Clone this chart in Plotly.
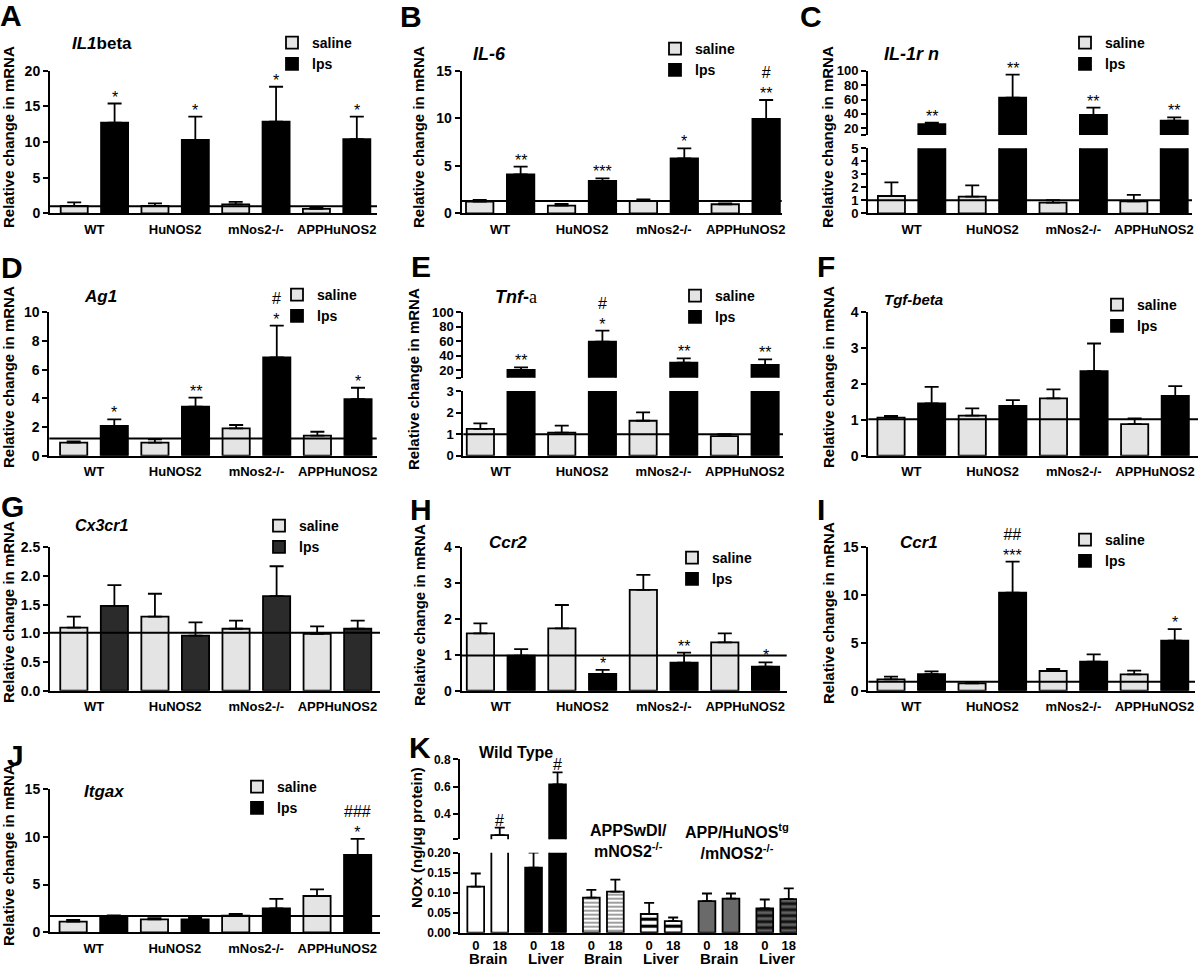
import plotly.graph_objects as go

W, H = 1200, 967
FONT = "Arial, Liberation Sans, Helvetica, sans-serif"

# ---------------- data ----------------
genotypes = ["WT", "HuNOS2", "mNos2-/-", "APPHuNOS2"]

# A  IL1beta
il1b_saline = [1.03, 1.03, 1.26, 0.61]
il1b_saline_err = [0.51, 0.37, 0.33, 0.18]
il1b_lps = [12.7, 10.3, 12.85, 10.4]
il1b_lps_err = [2.7, 3.25, 4.9, 3.15]
il1b_marks = ["*", "*", "*", "*"]
il1b_baseline = 1.0

# B  IL-6
il6_saline = [1.23, 0.81, 1.30, 0.95]
il6_saline_err = [0.17, 0.17, 0.17, 0.10]
il6_lps = [4.1, 3.4, 5.78, 9.92]
il6_lps_err = [0.81, 0.28, 1.05, 2.0]
il6_marks = ["**", "***", "*", "#<br>**"]
il6_baseline = 1.3

# C  IL-1rn (broken axis)
il1rn_saline = [1.33, 1.28, 0.82, 0.92]
il1rn_saline_err = [1.05, 0.87, 0.2, 0.49]
il1rn_lps = [25.6, 62.5, 38.5, 30.6]
il1rn_lps_err = [2.2, 32.0, 10.1, 4.7]
il1rn_marks = ["**", "**", "**", "**"]
il1rn_baseline = 1.0

# D  Ag1
ag1_saline = [0.91, 0.91, 1.91, 1.40]
ag1_saline_err = [0.09, 0.23, 0.23, 0.27]
ag1_lps = [2.07, 3.42, 6.86, 3.95]
ag1_lps_err = [0.46, 0.63, 2.21, 0.79]
ag1_marks = ["*", "**", "#<br>*", "*"]
ag1_baseline = 1.2

# E  Tnf-a (broken axis)
tnf_saline = [1.24, 1.07, 1.62, 0.91]
tnf_saline_err = [0.26, 0.32, 0.39, 0.09]
tnf_lps = [20.0, 59.2, 30.1, 26.9]
tnf_lps_err = [3.7, 15.3, 6.1, 7.9]
tnf_marks = ["**", "#<br>*", "**", "**"]
tnf_baseline = 1.0

# F  Tgf-beta
tgf_saline = [1.06, 1.12, 1.60, 0.88]
tgf_saline_err = [0.05, 0.20, 0.25, 0.16]
tgf_lps = [1.46, 1.39, 2.36, 1.67]
tgf_lps_err = [0.46, 0.16, 0.77, 0.27]
tgf_marks = ["", "", "", ""]
tgf_baseline = 1.02

# G  Cx3cr1
cx3_saline = [1.10, 1.29, 1.08, 0.99]
cx3_saline_err = [0.19, 0.40, 0.14, 0.13]
cx3_lps = [1.48, 0.96, 1.65, 1.08]
cx3_lps_err = [0.36, 0.23, 0.52, 0.14]
cx3_marks = ["", "", "", ""]
cx3_baseline = 1.01

# H  Ccr2
ccr2_saline = [1.60, 1.74, 2.81, 1.35]
ccr2_saline_err = [0.28, 0.65, 0.42, 0.25]
ccr2_lps = [0.98, 0.47, 0.78, 0.67]
ccr2_lps_err = [0.18, 0.11, 0.28, 0.12]
ccr2_marks = ["", "*", "**", "*"]
ccr2_baseline = 0.98

# I  Ccr1
ccr1_saline = [1.19, 0.77, 2.06, 1.71]
ccr1_saline_err = [0.28, 0.07, 0.21, 0.38]
ccr1_lps = [1.74, 10.25, 3.03, 5.23]
ccr1_lps_err = [0.28, 3.25, 0.77, 1.22]
ccr1_marks = ["", "##<br>***", "", "*"]
ccr1_baseline = 0.94

# J  Itgax
itgax_saline = [1.12, 1.36, 1.74, 3.80]
itgax_saline_err = [0.17, 0.11, 0.18, 0.70]
itgax_lps = [1.71, 1.36, 2.51, 8.09]
itgax_lps_err = [0.07, 0.17, 0.98, 1.68]
itgax_marks = ["", "", "", "###<br>*"]
itgax_baseline = 1.71

# K  NOx
nox_tissues = ["Brain", "Liver", "Brain", "Liver", "Brain", "Liver"]
nox_timepoints = ["0", "18"]
nox_t0 = [0.115, 0.1625, 0.0875, 0.0467, 0.079, 0.061]
nox_t0_err = [0.033, 0.0375, 0.0195, 0.028, 0.019, 0.022]
nox_t18 = [0.245, 0.617, 0.1025, 0.029, 0.085, 0.084]
nox_t18_err = [0.055, 0.088, 0.030, 0.009, 0.013, 0.027]
nox_t18_marks = ["#", "#", "", "", "", ""]
nox_groups = ["Wild Type", "APPSwDI/<br>mNOS2<sup>-/-</sup>",
              "APP/HuNOS<sup>tg</sup><br>/mNOS2<sup>-/-</sup>"]

# ---------------- helpers ----------------
fig = go.Figure()
layout = {}
annotations = []
shapes = []
counter = {"x": 0, "y": 0, "legend": 0}


def new_id(kind):
    counter[kind] += 1
    n = counter[kind]
    return "" if n == 1 else str(n)


def px(x):
    return x / W


def py(y):
    return 1 - y / H


def xd(a, b):
    return [px(a), px(b)]


def yd(top, bottom):
    return [py(bottom), py(top)]


def bfont(size):
    return dict(family=FONT, size=size, color="black", weight="bold")


YAX = dict(ticks="outside", ticklen=5, tickwidth=2, tickcolor="black", showline=True,
           linewidth=2, linecolor="black", showgrid=False, zeroline=False,
           tickfont=bfont(14), fixedrange=True, automargin=False)

BAR_W = 0.335
SAL = "#e4e4e4"
MARK_FONT = dict(family=FONT, size=16, color="black")


def text(x, y, s, size, xanchor="left", yanchor="middle", angle=0):
    annotations.append(dict(x=px(x), y=py(y), xref="paper", yref="paper", text=s,
                            showarrow=False, xanchor=xanchor, yanchor=yanchor,
                            textangle=angle, font=bfont(size)))


def bar_panel(p):
    xs = new_id("x")
    xname = "x" + xs
    yids = []
    tick_size = 13 if len(p["segments"]) > 1 else 14
    for seg in p["segments"]:
        ys = new_id("y")
        yids.append(ys)
        ax = dict(YAX)
        ax.update(domain=yd(seg["top"], seg["bottom"]), range=seg["range"], anchor=xname,
                  tickfont=bfont(tick_size))
        if "tickvals" in seg:
            ax.update(tickmode="array", tickvals=seg["tickvals"], ticktext=seg["ticktext"])
        else:
            ax.update(dtick=seg["dtick"], tick0=0)
        if "fmt" in seg:
            ax.update(tickformat=seg["fmt"])
        layout["yaxis" + ys] = ax
    layout["xaxis" + xs] = dict(domain=xd(p["x0"], p["x1"]), range=p["xrange"],
                                anchor="y" + yids[0], type="category",
                                categoryorder="array", categoryarray=genotypes,
                                showline=True, linewidth=2, linecolor="black",
                                ticks="outside", ticklen=3, tickcolor="rgba(0,0,0,0)",
                                showgrid=False, zeroline=False, tickfont=bfont(13),
                                fixedrange=True, automargin=False)
    lg = "legend" + new_id("legend")
    for si, ys in enumerate(yids):
        for name, vals, errs, color, off in [
            ("saline", p["saline"], p["saline_err"], SAL, -0.25 - BAR_W / 2),
            ("lps", p["lps"], p["lps_err"], p.get("lps_color", "black"), 0.25 - BAR_W / 2),
        ]:
            fig.add_trace(go.Bar(
                x=genotypes, y=vals, name=name, offset=off, width=BAR_W,
                marker=dict(color=color, line=dict(color="black", width=1.8)),
                error_y=dict(type="data", array=errs, arrayminus=[0] * len(errs),
                             symmetric=False, color="black", thickness=1.8, width=7),
                xaxis=xname, yaxis="y" + ys, legend=lg, showlegend=(si == 0),
                hoverinfo="skip"))
    shapes.append(dict(type="line", xref=xname + " domain", yref="y" + yids[0],
                       x0=0, x1=1, y0=p["baseline"], y1=p["baseline"],
                       line=dict(color="black", width=2)))
    for i, m in enumerate(p["marks"]):
        if m:
            annotations.append(dict(x=i + 0.25, y=p["lps"][i] + p["lps_err"][i],
                                    xref=xname, yref="y" + yids[-1], text=m,
                                    showarrow=False, yanchor="bottom", yshift=-4,
                                    font=MARK_FONT))
    lx, ly = p["legend"]
    layout[lg] = dict(x=px(lx - 43), y=py(ly - 17), xanchor="left", yanchor="top",
                      bgcolor="rgba(0,0,0,0)", font=bfont(14), traceorder="normal",
                      tracegroupgap=0, itemclick=False, itemdoubleclick=False)
    tx, ty = p["title_pos"]
    text(tx, ty, p["title"], p.get("title_size", 17))
    yx, yy = p["ytitle_pos"]
    text(yx, yy, "Relative change in mRNA", 15, xanchor="center", angle=-90)
    lx2, ly2 = p["letter_pos"]
    text(lx2, ly2, p["letter"], 30, xanchor="center")


def simple(top, bottom, rng, dtick, fmt=None):
    s = dict(top=top, bottom=bottom, range=rng, dtick=dtick)
    if fmt:
        s["fmt"] = fmt
    return s


il1rn_break = 10.7
tnf_break = 9.3

panels = [
    dict(letter="A", letter_pos=(11, 15), x0=50, x1=377, xrange=[-0.55, 3.5],
         segments=[simple(70.7, 213.3, [0, 20], 5)],
         saline=il1b_saline, saline_err=il1b_saline_err, lps=il1b_lps, lps_err=il1b_lps_err,
         marks=il1b_marks, baseline=il1b_baseline, legend=(315, 44),
         title="<i>IL1</i>beta", title_pos=(70, 44), ytitle_pos=(9, 137)),
    dict(letter="B", letter_pos=(411, 16), x0=461.7, x1=781.7, xrange=[-0.47, 3.44],
         segments=[simple(70.7, 213.3, [0, 15], 5)],
         saline=il6_saline, saline_err=il6_saline_err, lps=il6_lps, lps_err=il6_lps_err,
         marks=il6_marks, baseline=il6_baseline, legend=(698, 50),
         title="<i>IL-6</i>", title_size=18, title_pos=(471, 54), ytitle_pos=(419, 137)),
    dict(letter="C", letter_pos=(811, 16), x0=868, x1=1192, xrange=[-0.54, 3.47],
         segments=[simple(148.3, 213.3, [0, 5], 1),
                   dict(top=70.7, bottom=135, range=[il1rn_break, 100],
                        tickvals=[il1rn_break, 20, 40, 60, 80, 100],
                        ticktext=[" ", "20", "40", "60", "80", "100"])],
         saline=il1rn_saline, saline_err=il1rn_saline_err, lps=il1rn_lps, lps_err=il1rn_lps_err,
         marks=il1rn_marks, baseline=il1rn_baseline, legend=(1108, 44),
         title="<i>IL-1r n</i>", title_size=18, title_pos=(882, 54), ytitle_pos=(828, 137)),
    dict(letter="D", letter_pos=(12, 268), x0=49.3, x1=376.7, xrange=[-0.55, 3.48],
         segments=[simple(312.3, 455.7, [0, 10], 2)],
         saline=ag1_saline, saline_err=ag1_saline_err, lps=ag1_lps, lps_err=ag1_lps_err,
         marks=ag1_marks, baseline=ag1_baseline, legend=(320, 296),
         title="<i>Ag1</i>", title_pos=(82, 297), ytitle_pos=(8, 377)),
    dict(letter="E", letter_pos=(421, 267), x0=463.3, x1=783, xrange=[-0.46, 3.47],
         segments=[simple(391, 455.7, [0, 3], 1),
                   dict(top=312.3, bottom=377.7, range=[tnf_break, 100],
                        tickvals=[tnf_break, 20, 40, 60, 80, 100],
                        ticktext=[" ", "20", "40", "60", "80", "100"])],
         saline=tnf_saline, saline_err=tnf_saline_err, lps=tnf_lps, lps_err=tnf_lps_err,
         marks=tnf_marks, baseline=tnf_baseline, legend=(718, 297),
         title="<i>Tnf</i>-<span style='font-family:Liberation Serif;font-weight:normal'>a</span>",
         title_size=18, title_pos=(493, 297), ytitle_pos=(413, 379)),
    dict(letter="F", letter_pos=(826, 267), x0=868.3, x1=1198, xrange=[-0.53, 3.53],
         segments=[simple(312.3, 455.7, [0, 4], 1)],
         saline=tgf_saline, saline_err=tgf_saline_err, lps=tgf_lps, lps_err=tgf_lps_err,
         marks=tgf_marks, baseline=tgf_baseline, legend=(1140, 306),
         title="<i>Tgf-beta</i>", title_size=15, title_pos=(882, 300), ytitle_pos=(828, 377)),
    dict(letter="G", letter_pos=(12, 506), x0=50, x1=380, xrange=[-0.544, 3.525],
         segments=[simple(547.3, 690.7, [0, 2.5], 0.5, ".1f")],
         saline=cx3_saline, saline_err=cx3_saline_err, lps=cx3_lps, lps_err=cx3_lps_err,
         lps_color="#2b2b2b",
         marks=cx3_marks, baseline=cx3_baseline, legend=(302, 527),
         title="<i>Cx3cr1</i>", title_size=16, title_pos=(73, 525), ytitle_pos=(8, 612)),
    dict(letter="H", letter_pos=(421, 509), x0=461.7, x1=786.7, xrange=[-0.48, 3.51],
         segments=[simple(547.3, 690.7, [0, 4], 1)],
         saline=ccr2_saline, saline_err=ccr2_saline_err, lps=ccr2_lps, lps_err=ccr2_lps_err,
         marks=ccr2_marks, baseline=ccr2_baseline, legend=(715, 559),
         title="<i>Ccr2</i>", title_pos=(487, 542), ytitle_pos=(419, 615)),
    dict(letter="I", letter_pos=(821, 509), x0=868.3, x1=1195, xrange=[-0.53, 3.5],
         segments=[simple(547.3, 690.7, [0, 15], 5)],
         saline=ccr1_saline, saline_err=ccr1_saline_err, lps=ccr1_lps, lps_err=ccr1_lps_err,
         marks=ccr1_marks, baseline=ccr1_baseline, legend=(1108, 541),
         title="<i>Ccr1</i>", title_pos=(898, 542), ytitle_pos=(828, 613)),
    dict(letter="J", letter_pos=(15, 755), x0=50, x1=380, xrange=[-0.535, 3.525],
         segments=[simple(789, 932.3, [0, 15], 5)],
         saline=itgax_saline, saline_err=itgax_saline_err, lps=itgax_lps, lps_err=itgax_lps_err,
         marks=itgax_marks, baseline=itgax_baseline, legend=(280, 788),
         title="<i>Itgax</i>", title_pos=(82, 791), ytitle_pos=(8, 855)),
]

for p in panels:
    bar_panel(p)

# ---------------- panel K ----------------
kx = "x" + new_id("x")
kyb = new_id("y")
kyt = new_id("y")
nox_break = 0.215
layout["yaxis" + kyb] = dict(YAX, domain=yd(852.7, 932.7), range=[0, 0.2], anchor=kx,
                             dtick=0.05, tick0=0, tickformat=".2f", tickfont=bfont(12))
layout["yaxis" + kyt] = dict(YAX, domain=yd(759.3, 839.3), range=[nox_break, 0.8], anchor=kx,
                             tickmode="array", tickvals=[nox_break, 0.4, 0.6, 0.8],
                             ticktext=[" ", "0.4", "0.6", "0.8"], tickfont=bfont(12))
k_pos = list(range(len(nox_tissues)))
K_HALF = 0.2076
K_W = 0.29
tickvals, ticktext = [], []
for i in k_pos:
    tickvals += [i - K_HALF, i + K_HALF]
    ticktext += nox_timepoints
layout["xaxis" + kx[1:]] = dict(domain=xd(460, 797), range=[-0.48, 5.35], anchor="y" + kyb,
                                showline=True, linewidth=2, linecolor="black",
                                tickmode="array", tickvals=tickvals, ticktext=ticktext,
                                ticks="", showgrid=False, zeroline=False, tickfont=bfont(13),
                                fixedrange=True, automargin=False)

# fill style per tissue/genotype bar (same for both timepoints)
k_style = [
    dict(color="white"),
    dict(color="black"),
    dict(color="white", pattern=dict(shape="-", fgcolor="#858585", bgcolor="white",
                                     size=4, solidity=0.4, fgopacity=1)),
    dict(color="white", pattern=dict(shape="-", fgcolor="black", bgcolor="white",
                                     size=7, solidity=0.45, fgopacity=1)),
    dict(color="#6a6a6a"),
    dict(color="#606060", pattern=dict(shape="-", fgcolor="#111111", bgcolor="#606060",
                                       size=6, solidity=0.5, fgopacity=1)),
]
for ys in [kyb, kyt]:
    for vals, errs, off in [(nox_t0, nox_t0_err, -K_HALF - K_W / 2),
                            (nox_t18, nox_t18_err, K_HALF - K_W / 2)]:
        for i in k_pos:
            mk = dict(k_style[i])
            mk["line"] = dict(color="black", width=1.8)
            fig.add_trace(go.Bar(
                x=[k_pos[i]], y=[vals[i]], offset=off, width=K_W, showlegend=False,
                marker=mk,
                error_y=dict(type="data", array=[errs[i]], arrayminus=[0],
                             symmetric=False, color="black", thickness=1.8, width=5),
                xaxis=kx, yaxis="y" + ys, hoverinfo="skip"))
for i, m in enumerate(nox_t18_marks):
    if m:
        annotations.append(dict(x=i + K_HALF, y=nox_t18[i] + nox_t18_err[i], xref=kx,
                                yref="y" + kyt, text=m, showarrow=False, yanchor="bottom",
                                yshift=-3, font=MARK_FONT))
for i, t in enumerate(nox_tissues):
    annotations.append(dict(x=i, y=py(958), xref=kx, yref="paper", text=t,
                            showarrow=False, yanchor="middle", font=bfont(15)))
for (gx, gy), g in zip([(516, 752), (628, 841), (737, 841)], nox_groups):
    text(gx, gy, g, 16, xanchor="center")
text(416, 838, "NOx (ng/μg protein)", 15, xanchor="center", angle=-90)
text(420, 747, "K", 30, xanchor="center")

layout.update(width=W, height=H,
              margin=dict(l=0, r=0, t=0, b=0, pad=0, autoexpand=False),
              paper_bgcolor="white", plot_bgcolor="white", barmode="overlay",
              annotations=annotations, shapes=shapes, font=dict(family=FONT),
              hovermode=False)
fig.update_layout(**layout)
fig.write_html("out.html", config={"displayModeBar": False},
               post_script="document.body.style.margin='0';document.body.style.overflow='hidden';")
